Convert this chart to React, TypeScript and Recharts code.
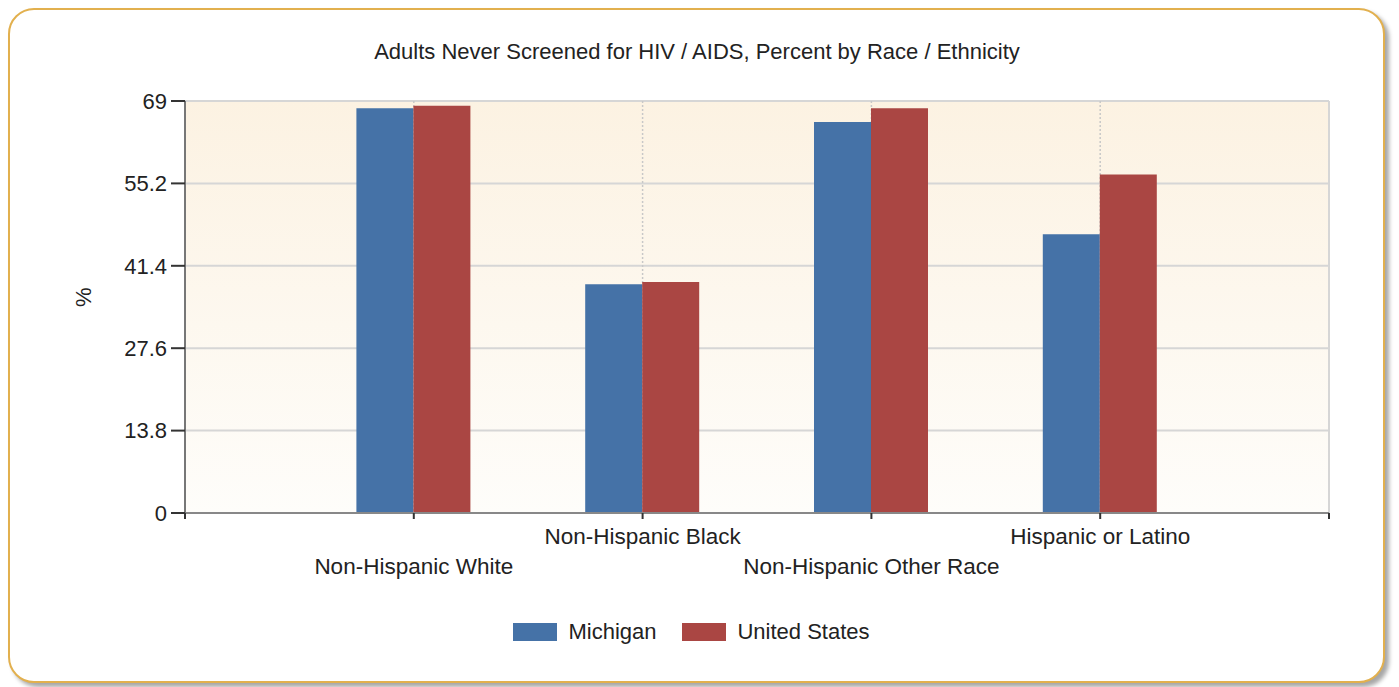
import React from 'react';
import { BarChart, Bar, XAxis, YAxis, CartesianGrid, ReferenceLine, Legend, Label } from 'recharts';

const categories = ['Non-Hispanic White', 'Non-Hispanic Black', 'Non-Hispanic Other Race', 'Hispanic or Latino'];
const michigan = [67.8, 38.3, 65.5, 46.7];
const unitedStates = [68.2, 38.7, 67.8, 56.7];
const yTicks = [0, 13.8, 27.6, 41.4, 55.2, 69];
const xTicks = [0, 1, 2, 3, 4, 5];
const seriesNames = ['Michigan', 'United States'];
const seriesColors = ['#4572A7', '#AA4643'];
const title = 'Adults Never Screened for HIV / AIDS, Percent by Race / Ethnicity';
const yAxisTitle = '%';

const data = categories.map((c, i) => ({ pos: i + 1, category: c, michigan: michigan[i], us: unitedStates[i] }));

const FONT = '"Liberation Sans", Arial, sans-serif';

const XTick = (props: any) => {
  const { x, payload } = props;
  const idx = Math.round(payload.value) - 1;
  const label = categories[idx];
  if (!label) return null;
  const upper = idx % 2 === 1;
  return (
    <text x={x} y={upper ? 544 : 574} textAnchor="middle" fontSize={22.5} fontFamily={FONT} fill="#222">
      {label}
    </text>
  );
};

const LegendContent = () => (
  <div style={{ display: 'flex', justifyContent: 'center', alignItems: 'center', fontFamily: FONT, fontSize: 22, color: '#222' }}>
    {seriesNames.map((n, i) => (
      <div key={n} style={{ display: 'flex', alignItems: 'center', marginRight: i === 0 ? 26 : 0 }}>
        <div style={{ width: 44, height: 18, background: seriesColors[i], marginRight: 11 }} />
        <span>{n}</span>
      </div>
    ))}
  </div>
);

export default function App() {
  return (
    <div style={{ position: 'absolute', left: 0, top: 0, width: 1399, height: 687, background: '#fff', overflow: 'hidden' }}>
      <div
        style={{
          position: 'absolute',
          left: 8,
          top: 8,
          width: 1373,
          height: 671,
          border: '2px solid #E2B04E',
          borderRadius: 26,
          boxShadow: '4px 4px 4px rgba(0,0,0,0.35)',
          background: '#fff',
        }}
      />
      <div
        style={{
          position: 'absolute',
          left: 0,
          width: 1394,
          top: 39,
          textAlign: 'center',
          fontFamily: FONT,
          fontSize: 22,
          color: '#222',
        }}
      >
        {title}
      </div>
      <div style={{ position: 'absolute', left: 0, top: 0 }}>
        <BarChart
          width={1399}
          height={687}
          data={data}
          margin={{ top: 101, right: 70, left: 85, bottom: 114 }}
          barGap={0}
        >
          <defs>
            <linearGradient id="plotBg" x1="0" y1="0" x2="0" y2="1">
              <stop offset="0%" stopColor="#FCF2E2" />
              <stop offset="100%" stopColor="#FEFDFA" />
            </linearGradient>
          </defs>
          <CartesianGrid vertical={false} stroke="#D6D6D6" strokeWidth={2} fill="url(#plotBg)" />
          <CartesianGrid horizontal={false} stroke="#C8C8C8" strokeDasharray="2 2" strokeWidth={1.5} />
          <ReferenceLine x={5} stroke="#D6D6D6" strokeWidth={2} />
          <XAxis
            type="number"
            dataKey="pos"
            domain={[0, 5]}
            ticks={xTicks}
            interval={0}
            height={60}
            stroke="#888"
            strokeWidth={2}
            tickSize={6}
            tickLine={{ stroke: '#333', strokeWidth: 2 }}
            tick={<XTick />}
            allowDataOverflow
          />
          <YAxis
            type="number"
            domain={[0, 69]}
            ticks={yTicks}
            interval={0}
            width={100}
            stroke="#777"
            strokeWidth={2}
            tickSize={14}
            tickMargin={4}
            tickLine={{ stroke: '#333', strokeWidth: 2 }}
            tick={{ fontSize: 22, fontFamily: FONT, fill: '#222' }}
          >
            <Label value={yAxisTitle} angle={-90} position="insideLeft" offset={-2} style={{ fontSize: 22, fontFamily: FONT, fill: '#222' }} />
          </YAxis>
          <Bar dataKey="michigan" name={seriesNames[0]} fill={seriesColors[0]} barSize={57} isAnimationActive={false} />
          <Bar dataKey="us" name={seriesNames[1]} fill={seriesColors[1]} barSize={57} isAnimationActive={false} />
          <Legend
            layout="vertical"
            align="center"
            verticalAlign="middle"
            content={<LegendContent />}
            wrapperStyle={{ position: 'absolute', top: 619, left: 0, width: 1383 }}
          />
        </BarChart>
      </div>
    </div>
  );
}
